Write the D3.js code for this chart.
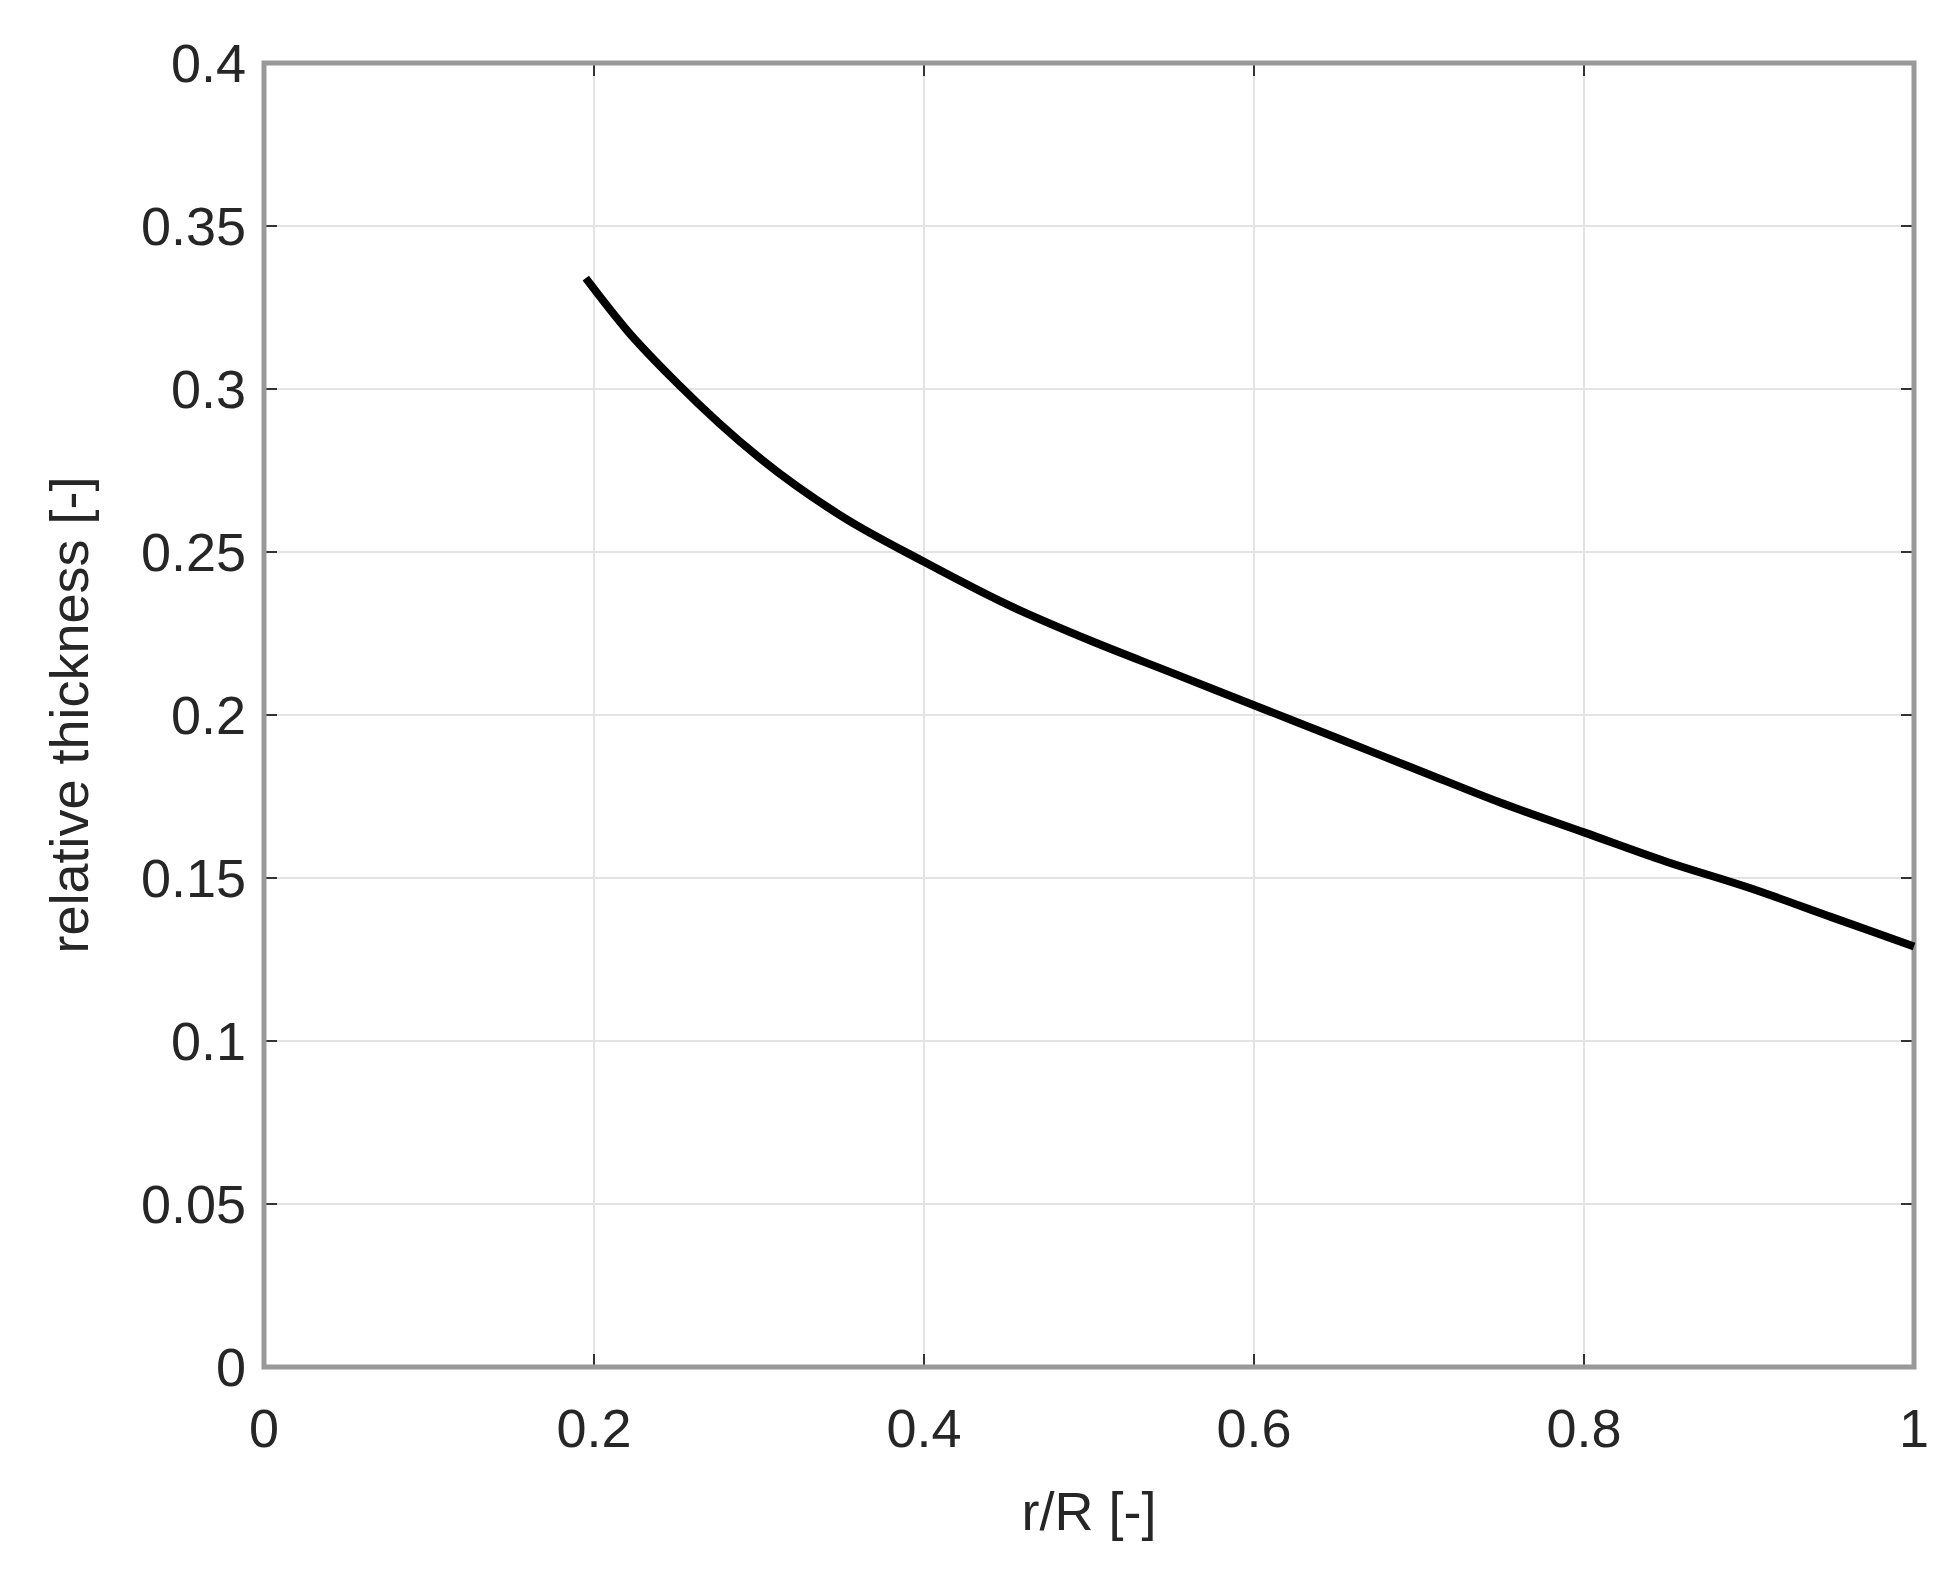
<!DOCTYPE html><html><head><meta charset="utf-8"><script src="https://cdn.jsdelivr.net/npm/d3@7"></script>
<style>body{margin:0;background:#fff}text{font-family:"Liberation Sans",Arial,sans-serif}</style></head><body>
<svg id="c" width="1960" height="1571"></svg>
<script>
const rR=[0.195,0.22,0.25,0.3,0.35,0.4,0.45,0.5,0.55,0.6,0.65,0.7,0.75,0.8,0.85,0.9,0.95,1.0];
const thick=[0.334,0.318,0.302,0.279,0.261,0.247,0.234,0.223,0.213,0.203,0.193,0.183,0.173,0.164,0.155,0.147,0.138,0.129];
const xTicks=[0,0.2,0.4,0.6,0.8,1];
const yTicks=[0,0.05,0.1,0.15,0.2,0.25,0.3,0.35,0.4];
const L=264,R=1914,T=63,B=1367;
const svg=d3.select("#c");
const x=d3.scaleLinear().domain([0,1]).range([L,R]);
const y=d3.scaleLinear().domain([0,0.4]).range([B,T]);
const g=svg.append("g");
g.selectAll(".gx").data(xTicks).join("line").attr("x1",d=>x(d)).attr("x2",d=>x(d)).attr("y1",T).attr("y2",B).attr("stroke","#e3e3e3").attr("stroke-width",2);
g.selectAll(".gy").data(yTicks).join("line").attr("y1",d=>y(d)).attr("y2",d=>y(d)).attr("x1",L).attr("x2",R).attr("stroke","#e3e3e3").attr("stroke-width",2);
const tk=13;
xTicks.forEach(d=>{g.append("line").attr("x1",x(d)).attr("x2",x(d)).attr("y1",B).attr("y2",B-tk).attr("stroke","#333").attr("stroke-width",2);
 g.append("line").attr("x1",x(d)).attr("x2",x(d)).attr("y1",T).attr("y2",T+tk).attr("stroke","#333").attr("stroke-width",2);
 g.append("text").attr("x",x(d)).attr("y",B+80).attr("text-anchor","middle").attr("font-size",54).attr("fill","#262626").text(d3.format("~g")(d));});
yTicks.forEach(d=>{g.append("line").attr("y1",y(d)).attr("y2",y(d)).attr("x1",L).attr("x2",L+tk).attr("stroke","#333").attr("stroke-width",2);
 g.append("line").attr("y1",y(d)).attr("y2",y(d)).attr("x1",R).attr("x2",R-tk).attr("stroke","#333").attr("stroke-width",2);
 g.append("text").attr("x",L-18).attr("y",y(d)+19).attr("text-anchor","end").attr("font-size",54).attr("fill","#262626").text(d3.format("~g")(d));});
g.append("rect").attr("x",L).attr("y",T).attr("width",R-L).attr("height",B-T).attr("fill","none").attr("stroke","#999").attr("stroke-width",5);
g.append("path").datum(rR.map((v,i)=>[v,thick[i]])).attr("d",d3.line().x(d=>x(d[0])).y(d=>y(d[1])).curve(d3.curveMonotoneX)).attr("fill","none").attr("stroke","#000").attr("stroke-width",8);
g.append("text").attr("x",(L+R)/2).attr("y",1530).attr("text-anchor","middle").attr("font-size",54).attr("fill","#262626").text("r/R [-]");
g.append("text").attr("transform",`translate(88,${(T+B)/2}) rotate(-90)`).attr("text-anchor","middle").attr("font-size",54).attr("fill","#262626").text("relative thickness [-]");
</script></body></html>
